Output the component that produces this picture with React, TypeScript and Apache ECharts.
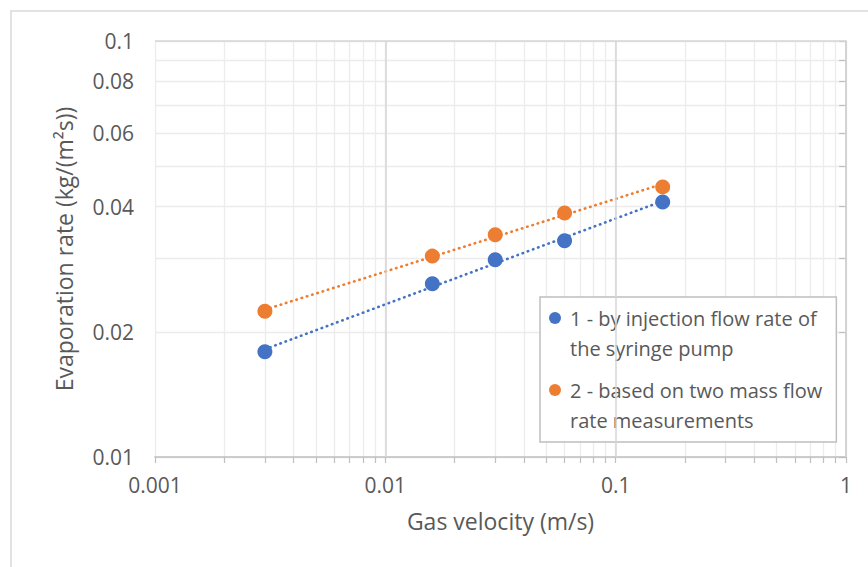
import React, { useEffect, useRef } from "react";
import * as echarts from "echarts";

const gasVelocity = [0.003, 0.016, 0.03, 0.06, 0.16];
const rateSyringe = [0.0179, 0.0261, 0.0298, 0.0331, 0.041];
const rateMassFlow = [0.0224, 0.0304, 0.0342, 0.0386, 0.0446];
const seriesNames = [
  "1 - by injection flow rate of\nthe syringe pump",
  "2 - based on two mass flow\nrate measurements",
];
const xTickLabels = [0.001, 0.01, 0.1, 1];
const yTickLabels = [0.01, 0.02, 0.04, 0.06, 0.08, 0.1];
const xGridValues = [
  0.001, 0.002, 0.003, 0.004, 0.005, 0.006, 0.007, 0.008, 0.009,
  0.01, 0.02, 0.03, 0.04, 0.05, 0.06, 0.07, 0.08, 0.09,
  0.1, 0.2, 0.3, 0.4, 0.5, 0.6, 0.7, 0.8, 0.9, 1,
];
const yGridValues = [0.01, 0.02, 0.03, 0.04, 0.05, 0.06, 0.07, 0.08, 0.09, 0.1];
const xMajor = [0.01, 0.1, 1];
const yMajor = [0.1];

const BLUE = "#4472C4";
const ORANGE = "#ED7D31";
const FONT = "'Open Sans', sans-serif";
const TXT = "#595959";
// legend marker: circle at top-left of a taller box so it lines up with the first text line
const LEGEND_ICON =
  "path://M0,6 A6,6 0 1 1 12,6 A6,6 0 1 1 0,6 Z M16,42";

const lg = (v: number) => Math.log10(v);
const fmt = (v: number) => String(Number(Math.pow(10, v).toPrecision(3)));

function trend(xs: number[], ys: number[]) {
  const lx = xs.map(lg);
  const ly = ys.map(lg);
  const n = lx.length;
  const mx = lx.reduce((a, b) => a + b, 0) / n;
  const my = ly.reduce((a, b) => a + b, 0) / n;
  let sxy = 0, sxx = 0;
  for (let i = 0; i < n; i++) {
    sxy += (lx[i] - mx) * (ly[i] - my);
    sxx += (lx[i] - mx) * (lx[i] - mx);
  }
  const b = sxy / sxx;
  const a = my - b * mx;
  const x0 = Math.min(...lx);
  const x1 = Math.max(...lx);
  return [
    [x0, a + b * x0],
    [x1, a + b * x1],
  ];
}

export default function App() {
  const ref = useRef<HTMLDivElement>(null);
  useEffect(() => {
    if (!ref.current) return;
    const chart = echarts.init(ref.current, null, { renderer: "svg" });
    const pts = (ys: number[]) => gasVelocity.map((x, i) => [lg(x), lg(ys[i])]);
    const dotted = (color: string) => ({
      color,
      width: 2.6,
      type: [0.5, 5] as any,
      cap: "round" as any,
    });
    chart.setOption({
      animation: false,
      backgroundColor: "#ffffff",
      textStyle: { fontFamily: FONT },
      graphic: [
        {
          type: "rect",
          shape: { x: 11, y: 11, width: 900, height: 600 },
          style: { fill: "none", stroke: "#d9d9d9", lineWidth: 1.5 },
          silent: true,
        },
      ],
      grid: { left: 155, top: 41, right: 22, bottom: 110, containLabel: false },
      xAxis: {
        type: "value",
        min: -3,
        max: 0,
        name: "Gas velocity (m/s)",
        nameLocation: "middle",
        nameGap: 52,
        nameTextStyle: { color: TXT, fontSize: 23, fontFamily: FONT },
        axisLine: { show: true, lineStyle: { color: "#bfbfbf", width: 1.5 } },
        axisTick: {
          show: true,
          length: 6,
          customValues: xGridValues.map(lg),
          lineStyle: { color: "#bfbfbf", width: 1.2 },
        },
        axisLabel: {
          customValues: xTickLabels.map(lg),
          formatter: (v: number) => fmt(v),
          color: TXT,
          fontSize: 21,
          margin: 17,
          fontFamily: FONT,
        },
        splitLine: { show: true, lineStyle: { color: "#ececec", width: 1.3 } },
      },
      yAxis: {
        type: "value",
        min: -2,
        max: -1,
        name: "Evaporation rate (kg/(m²s))",
        nameLocation: "middle",
        nameGap: 80,
        nameTextStyle: { color: TXT, fontSize: 23, fontFamily: FONT },
        axisLine: { show: true, lineStyle: { color: "#bfbfbf", width: 1.5 } },
        axisTick: {
          show: true,
          length: 7,
          customValues: yGridValues.map(lg),
          lineStyle: { color: "#bfbfbf", width: 1.2 },
        },
        axisLabel: {
          customValues: yTickLabels.map(lg),
          formatter: (v: number) => fmt(v),
          color: TXT,
          fontSize: 21,
          margin: 21,
          fontFamily: FONT,
        },
        splitLine: { show: true, lineStyle: { color: "#ececec", width: 1.3 } },
      },
      legend: {
        data: seriesNames,
        orient: "vertical",
        left: 540,
        top: 297,
        padding: [6, 14, 7, 9],
        itemGap: 12,
        itemWidth: 16,
        itemHeight: 42,
        icon: LEGEND_ICON,
        selectedMode: false,
        backgroundColor: "#ffffff",
        borderColor: "#bfbfbf",
        borderWidth: 1.5,
        borderRadius: 0,
        textStyle: {
          color: TXT,
          fontSize: 20,
          lineHeight: 30,
          fontFamily: FONT,
        },
      },
      series: [
        {
          type: "line",
          name: "majorGrid",
          data: [],
          z: 1,
          silent: true,
          markLine: {
            silent: true,
            symbol: "none",
            label: { show: false },
            lineStyle: { color: "#d6d6d6", type: "solid", width: 1.5 },
            data: [
              ...xMajor.map((v) => ({ xAxis: lg(v) })),
              ...yMajor.map((v) => ({ yAxis: lg(v) })),
            ],
          },
        },
        {
          type: "line",
          name: "trend1",
          data: trend(gasVelocity, rateSyringe),
          showSymbol: false,
          symbol: "none",
          z: 2,
          lineStyle: dotted(BLUE),
          silent: true,
        },
        {
          type: "line",
          name: "trend2",
          data: trend(gasVelocity, rateMassFlow),
          showSymbol: false,
          symbol: "none",
          z: 2,
          lineStyle: dotted(ORANGE),
          silent: true,
        },
        {
          type: "scatter",
          name: seriesNames[0],
          data: pts(rateSyringe),
          symbolSize: 15,
          itemStyle: { color: BLUE, opacity: 1 },
          z: 3,
        },
        {
          type: "scatter",
          name: seriesNames[1],
          data: pts(rateMassFlow),
          symbolSize: 15,
          itemStyle: { color: ORANGE, opacity: 1 },
          z: 3,
        },
      ],
    });
    return () => chart.dispose();
  }, []);
  return (
    <div
      ref={ref}
      style={{ position: "absolute", left: 0, top: 0, width: 868, height: 567 }}
    />
  );
}
